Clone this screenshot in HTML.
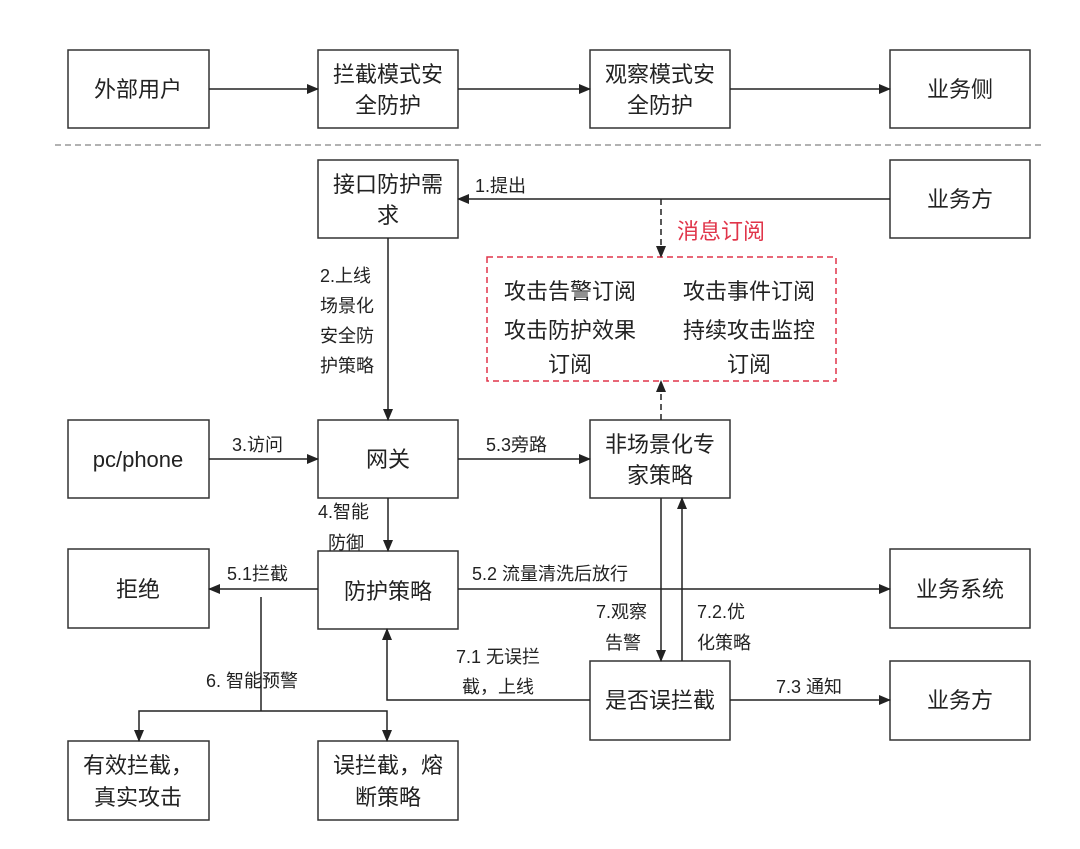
<!DOCTYPE html>
<html><head><meta charset="utf-8"><style>
html,body{margin:0;padding:0;background:#fff}
svg{display:block}
text{font-family:"Liberation Sans","Noto Sans CJK SC",sans-serif;fill:#222}
.b{font-size:22px}
.l{font-size:18px}
</style></head><body>
<svg width="1080" height="849" viewBox="0 0 1080 849">
<defs><marker id="a" markerWidth="12" markerHeight="10" refX="11" refY="5" orient="auto" markerUnits="userSpaceOnUse"><path d="M0,0 L12,5 L0,10 z" fill="#222"/></marker></defs>
<g fill="#fff" stroke="#333" stroke-width="1.5">
<rect x="68" y="50" width="141" height="78"/><rect x="318" y="50" width="140" height="78"/>
<rect x="590" y="50" width="140" height="78"/><rect x="890" y="50" width="140" height="78"/>
<rect x="318" y="160" width="140" height="78"/><rect x="890" y="160" width="140" height="78"/>
<rect x="68" y="420" width="141" height="78"/><rect x="318" y="420" width="140" height="78"/>
<rect x="590" y="420" width="140" height="78"/>
<rect x="68" y="549" width="141" height="79"/><rect x="318" y="551" width="140" height="78"/>
<rect x="890" y="549" width="140" height="79"/>
<rect x="590" y="661" width="140" height="79"/><rect x="890" y="661" width="140" height="79"/>
<rect x="68" y="741" width="141" height="79"/><rect x="318" y="741" width="140" height="79"/>
</g>
<line x1="55" y1="145" x2="1045" y2="145" stroke="#999" stroke-width="1.5" stroke-dasharray="6,4"/>
<rect x="487" y="257" width="349" height="124" fill="none" stroke="#e0354a" stroke-width="1.5" stroke-dasharray="6,4"/>
<g stroke="#222" stroke-width="1.5" fill="none">
<line x1="209" y1="89" x2="318" y2="89" marker-end="url(#a)"/>
<line x1="458" y1="89" x2="590" y2="89" marker-end="url(#a)"/>
<line x1="730" y1="89" x2="890" y2="89" marker-end="url(#a)"/>
<line x1="890" y1="199" x2="458" y2="199" marker-end="url(#a)"/>
<line x1="388" y1="238" x2="388" y2="420" marker-end="url(#a)"/>
<line x1="209" y1="459" x2="318" y2="459" marker-end="url(#a)"/>
<line x1="458" y1="459" x2="590" y2="459" marker-end="url(#a)"/>
<line x1="388" y1="498" x2="388" y2="551" marker-end="url(#a)"/>
<line x1="318" y1="589" x2="209" y2="589" marker-end="url(#a)"/>
<line x1="458" y1="589" x2="890" y2="589" marker-end="url(#a)"/>
<line x1="661" y1="498" x2="661" y2="661" marker-end="url(#a)"/>
<line x1="682" y1="661" x2="682" y2="498" marker-end="url(#a)"/>
<polyline points="590,700 387,700 387,629" marker-end="url(#a)"/>
<line x1="730" y1="700" x2="890" y2="700" marker-end="url(#a)"/>
<line x1="261" y1="597" x2="261" y2="711"/>
<polyline points="261,711 139,711 139,741" marker-end="url(#a)"/>
<polyline points="261,711 387,711 387,741" marker-end="url(#a)"/>
<line x1="661" y1="199" x2="661" y2="257" stroke-dasharray="6,4" marker-end="url(#a)"/>
<line x1="661" y1="420" x2="661" y2="381" stroke-dasharray="6,4" marker-end="url(#a)"/>
</g>
<g class="b" text-anchor="middle">
<text x="138" y="97">外部用户</text>
<text x="388" y="82">拦截模式安</text><text x="388" y="113">全防护</text>
<text x="660" y="82">观察模式安</text><text x="660" y="113">全防护</text>
<text x="960" y="97">业务侧</text>
<text x="388" y="192">接口防护需</text><text x="388" y="223">求</text>
<text x="960" y="207">业务方</text>
<text x="138" y="467">pc/phone</text>
<text x="388" y="467">网关</text>
<text x="660" y="452">非场景化专</text><text x="660" y="483">家策略</text>
<text x="138" y="597">拒绝</text>
<text x="388" y="599">防护策略</text>
<text x="960" y="597">业务系统</text>
<text x="660" y="708">是否误拦截</text>
<text x="960" y="708">业务方</text>
<text x="138" y="773">有效拦截，</text><text x="138" y="805">真实攻击</text>
<text x="388" y="773">误拦截，熔</text><text x="388" y="805">断策略</text>
<text x="570" y="299">攻击告警订阅</text><text x="749" y="299">攻击事件订阅</text>
<text x="570" y="338">攻击防护效果</text><text x="749" y="338">持续攻击监控</text>
<text x="570" y="372">订阅</text><text x="749" y="372">订阅</text>
</g>
<text x="677" y="239" font-size="22" style="fill:#e0354a">消息订阅</text>
<g class="l">
<text x="475" y="192">1.提出</text>
<text x="320" y="282">2.上线</text><text x="320" y="312">场景化</text><text x="320" y="342">安全防</text><text x="320" y="372">护策略</text>
<text x="232" y="451">3.访问</text>
<text x="486" y="451">5.3旁路</text>
<text x="318" y="518">4.智能</text><text x="328" y="549">防御</text>
<text x="227" y="580">5.1拦截</text>
<text x="472" y="580">5.2 流量清洗后放行</text>
<text x="596" y="618">7.观察</text><text x="605" y="649">告警</text>
<text x="697" y="618">7.2.优</text><text x="697" y="649">化策略</text>
<text x="456" y="663">7.1 无误拦</text><text x="462" y="693">截，上线</text>
<text x="206" y="687">6. 智能预警</text>
<text x="776" y="693">7.3 通知</text>
</g>
</svg>
</body></html>
